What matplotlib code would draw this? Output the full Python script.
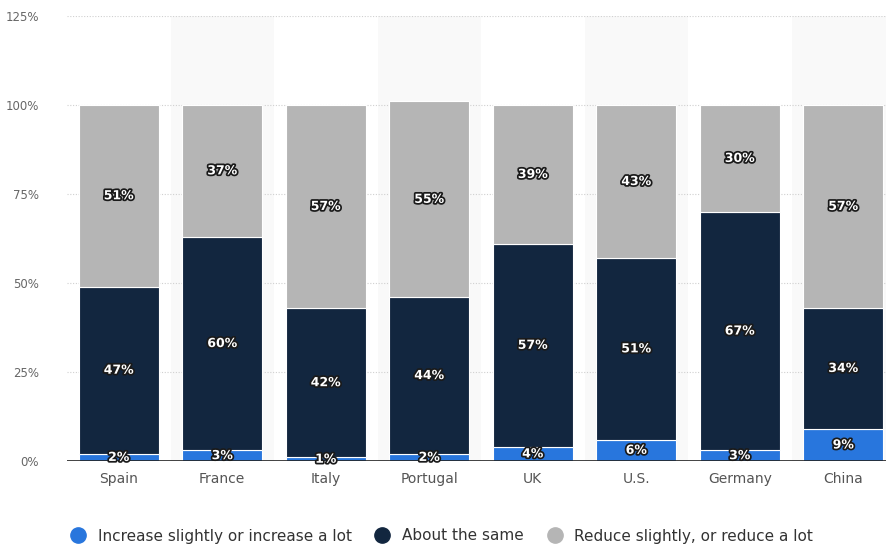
import matplotlib
matplotlib.use("Agg")
import matplotlib.pyplot as plt
import matplotlib.patheffects as pe
from matplotlib.lines import Line2D

countries = ["Spain", "France", "Italy", "Portugal", "UK", "U.S.", "Germany", "China"]
increase = [2, 3, 1, 2, 4, 6, 3, 9]
same = [47, 60, 42, 44, 57, 51, 67, 34]
reduce = [51, 37, 57, 55, 39, 43, 30, 57]
series_names = ["Increase slightly or increase a lot", "About the same", "Reduce slightly, or reduce a lot"]
colors = ["#2876dd", "#12263f", "#b5b5b5"]
yticks = [0, 25, 50, 75, 100, 125]

plt.rcParams['font.family'] = ['DejaVu Sans']
fig = plt.figure(figsize=(8.86, 5.46), dpi=100)
ax = fig.add_axes([67/886, 85/546, 1 - 67/886, 445/546])

x = list(range(len(countries)))
for i in x:
    if i % 2 == 1:
        ax.axvspan(i - 0.5, i + 0.5, ymin=0, ymax=1, color="#f9f9f9", zorder=0, lw=0)

for y in yticks[1:]:
    ax.axhline(y, color="#d0d0d0", lw=0.8, ls=(0, (1, 1.5)), zorder=1)

bw = 0.775
bottoms = [0] * len(countries)
for vals, col in zip([increase, same, reduce], colors):
    ax.bar(x, vals, bw, bottom=bottoms, color=col, edgecolor="white", linewidth=0.8, zorder=2)
    for i, (v, b) in enumerate(zip(vals, bottoms)):
        ax.text(i, b + v / 2, f"{v}%", ha="center", va="center", color="white",
                fontsize=9, fontweight="bold", zorder=4,
                path_effects=[pe.withStroke(linewidth=2.5, foreground="#1a1a1a")])
    bottoms = [b + v for b, v in zip(bottoms, vals)]

ax.axhline(0, color="#222222", lw=1.2, zorder=3)
ax.set_xlim(-0.5, 7.5 - 9/103.5)
ax.set_ylim(0, 125)
ax.set_yticks(yticks)
ax.set_yticklabels([f"{t}%" for t in yticks], color="#666666", fontsize=8.5)
ax.set_xticks(x)
ax.set_xticklabels(countries, color="#555555", fontsize=10)
ax.tick_params(axis="y", length=0, pad=20)
ax.tick_params(axis="x", length=0, pad=8)
for s in ax.spines.values():
    s.set_visible(False)

handles = [Line2D([0], [0], marker="o", color="none", markerfacecolor=c, markeredgecolor=c,
                  markersize=11) for c in colors]
fig.legend(handles, series_names, loc="center", bbox_to_anchor=(438/886, 10/546), ncol=3,
           frameon=False, fontsize=11, handletextpad=0.3, columnspacing=1.0,
           labelcolor="#333333")

fig.savefig("out.png", dpi=100)
